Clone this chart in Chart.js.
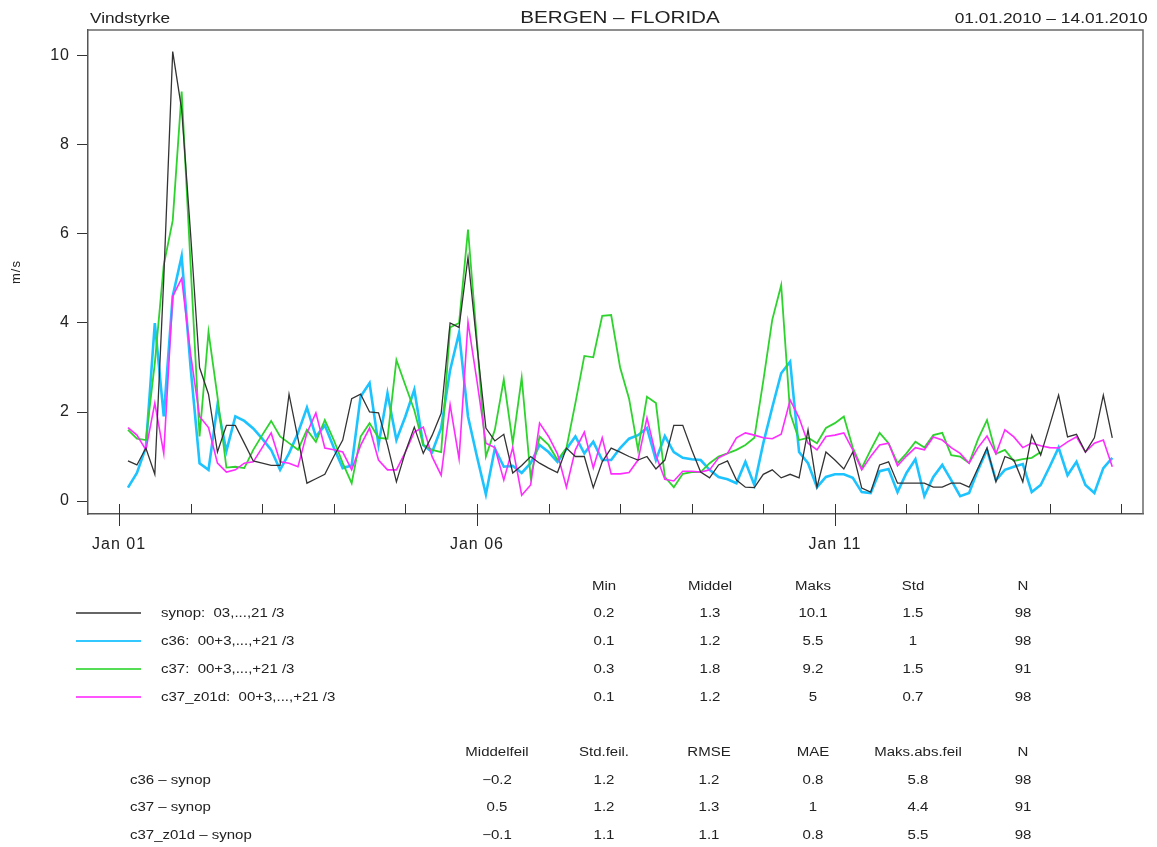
<!DOCTYPE html>
<html>
<head>
<meta charset="utf-8">
<script src="https://cdn.jsdelivr.net/npm/chart.js@4.4.1/dist/chart.umd.min.js"></script>
<style>
  html, body { margin: 0; padding: 0; background: #fff; }
  #wrap { position: relative; width: 1157px; height: 847px; font-family: "Liberation Sans", Arial, sans-serif; color: #222; }
  #c { position: absolute; left: 0; top: 0; }
  .t { position: absolute; white-space: pre; line-height: 1; }
  .hdr { font-size: 14px; top: 11px; }
  .left { transform: scaleX(1.23); transform-origin: left center; }
  .right { transform: scaleX(1.24); transform-origin: right center; }
  .title { font-size: 16px; top: 10px; left: 620px; transform: translateX(-50%) scaleX(1.29); transform-origin: center center; }
  .cell { font-size: 12.5px; transform: translateX(-50%) scaleX(1.2); transform-origin: center center; }
  .lab { font-size: 12.5px; transform: scaleX(1.2); transform-origin: left center; }
  .lg { position: absolute; left: 76px; width: 65px; height: 0; border-top: 2px solid; }
</style>
</head>
<body>
<div id="wrap">
  <canvas id="c" width="1157" height="847"></canvas>
  <div class="t hdr left" style="left:90px;">Vindstyrke</div>
  <div class="t title">BERGEN – FLORIDA</div>
  <div class="t hdr right" style="right:9px;">01.01.2010 – 14.01.2010</div>
  <div id="tables"></div>
</div>
<script>
// ---- data: 3-hourly wind speed (m/s), Jan 01 03:00 .. Jan 14 21:00 ----
const firstHour = 3;
const stepHours = 3;
const synop = [0.9,0.81,1.19,0.6,5.0,10.1,8.8,6.0,3.0,2.4, 1.1,1.7,1.7,1.3,0.9,0.85,0.8,0.8,2.4,1.4, 0.4,0.5,0.6,1.0,1.37,2.3,2.4,2.0,1.98,1.26, 0.43,1.1,1.66,1.07,1.48,1.97,4.0,3.9,5.48,3.5, 1.64,1.35,1.5,0.63,0.8,1.0,0.85,0.74,0.64,1.19, 1.0,1.0,0.3,0.88,1.19,1.1,1.0,0.92,1.0,0.72, 0.92,1.7,1.7,1.15,0.65,0.52,0.81,0.9,0.47,0.31, 0.3,0.6,0.7,0.52,0.6,0.52,1.6,0.31,1.1,0.92, 0.72,1.1,0.29,0.2,0.81,0.88,0.4,0.4,0.4,0.4, 0.31,0.31,0.4,0.4,0.31,0.74,1.19,0.43,1.0,0.92, 0.43,1.48,1.03,1.7,2.38,1.44,1.5,1.1,1.42,2.38, 1.42];
const c36 = [0.3,0.63,1.2,4.0,1.9,4.6,5.5,3.0,0.85,0.7, 2.15,1.12,1.9,1.8,1.63,1.4,1.15,0.7,1.07,1.53, 2.1,1.45,1.7,1.2,0.74,0.8,2.35,2.65,1.26,2.42, 1.37,1.9,2.5,1.26,1.1,1.64,2.94,3.78,1.9,1.0, 0.15,1.18,0.77,0.79,0.63,0.85,1.26,1.1,0.88,1.17, 1.45,1.07,1.33,0.92,0.92,1.19,1.4,1.48,1.64,0.92, 1.46,1.1,0.97,0.94,0.92,0.7,0.54,0.49,0.4,0.88, 0.36,1.3,2.1,2.87,3.13,1.1,0.85,0.31,0.54,0.6, 0.6,0.52,0.2,0.18,0.67,0.72,0.2,0.63,0.94,0.11, 0.54,0.81,0.47,0.11,0.18,0.7,1.15,0.47,0.7,0.77, 0.83,0.2,0.36,0.77,1.2,0.58,0.88,0.36,0.18,0.74, 0.97];
const c37 = [1.6,1.4,1.37,3.1,5.3,6.3,9.2,5.3,1.45,3.8, 2.35,0.75,0.77,0.74,1.15,1.48,1.8,1.45,1.3,1.15, 1.6,1.33,1.82,1.37,0.85,0.4,1.45,1.75,1.42,1.4, 3.17,2.6,2.04,1.26,1.15,1.1,3.9,4.0,6.1,3.6, 1.0,1.6,2.73,1.3,2.77,0.54,1.45,1.26,0.92,1.19, 2.2,3.26,3.23,4.16,4.18,3.0,2.3,1.15,2.34,2.2, 0.54,0.31,0.61,0.65,0.65,0.85,1.0,1.07,1.15,1.26, 1.42,2.7,4.07,4.85,1.97,1.37,1.42,1.3,1.64,1.75, 1.9,1.2,0.74,1.15,1.53,1.3,0.85,1.07,1.33,1.2, 1.48,1.53,1.03,1.0,0.85,1.39,1.82,1.06,1.15,0.9, 0.94,0.97,1.1,null,null,null,null,null,null,null, null];
const c37z01d = [1.65,1.48,1.15,2.2,1.07,4.6,5.0,3.3,1.9,1.65, 0.85,0.65,0.7,0.85,0.88,1.2,1.53,0.88,0.85,0.77, 1.53,1.98,1.19,1.15,1.1,0.7,1.25,1.64,0.92,0.7, 0.7,1.1,1.55,1.66,0.99,0.58,2.16,0.95,4.02,2.7, 1.3,1.2,0.47,1.2,0.13,0.36,1.75,1.45,1.06,0.31, 1.15,1.55,0.74,1.42,0.61,0.61,0.64,0.92,1.87,1.03, 0.49,0.45,0.67,0.67,0.65,0.7,0.97,1.07,1.42,1.53, 1.48,1.42,1.4,1.5,2.27,1.87,1.3,1.15,1.45,1.48, 1.53,1.15,0.7,1.0,1.26,1.3,0.79,1.01,1.2,1.15, 1.44,1.37,1.2,1.07,0.85,1.2,1.46,1.06,1.6,1.44, 1.2,1.3,1.24,1.2,1.19,1.33,1.44,1.1,1.3,1.37, 0.77];

// ---- ticks ----
const dayTickHours = [0,24,48,72,96,120,144,168,192,216,240,264,288,312,336];
const dayTickLabels = {0:'Jan 01', 120:'Jan 06', 240:'Jan 11'};
const yTicks = [0,2,4,6,8,10];

// ---- legend / statistics tables ----
const seriesNames = ['synop:  03,...,21 /3','c36:  00+3,...,+21 /3','c37:  00+3,...,+21 /3','c37_z01d:  00+3,...,+21 /3'];
const seriesColors = ['#333333','#1cc3ff','#2ed32e','#ff2cff'];
const legendColors = ['#666666','#33c8ff','#55dd55','#ff55ff'];
const statHeads = ['Min','Middel','Maks','Std','N'];
const statRows = [['0.2','1.3','10.1','1.5','98'],['0.1','1.2','5.5','1','98'],['0.3','1.8','9.2','1.5','91'],['0.1','1.2','5','0.7','98']];
const errNames = ['c36 – synop','c37 – synop','c37_z01d – synop'];
const errHeads = ['Middelfeil','Std.feil.','RMSE','MAE','Maks.abs.feil','N'];
const errRows = [['−0.2','1.2','1.2','0.8','5.8','98'],['0.5','1.2','1.3','1','4.4','91'],['−0.1','1.1','1.1','0.8','5.5','98']];

// ---- build html tables ----
(function(){
  const box = document.getElementById('tables');
  let h = '';
  const statX = [604,710,813,913,1023];
  const rowY = [607,635,663,691];
  statHeads.forEach((s,i)=>{ h += `<div class="t cell" style="left:${statX[i]}px;top:580px">${s}</div>`; });
  seriesNames.forEach((n,r)=>{
    h += `<div class="lg" style="top:${rowY[r]+5}px;border-color:${legendColors[r]}"></div>`;
    h += `<div class="t lab" style="left:161px;top:${rowY[r]}px">${n}</div>`;
    statRows[r].forEach((v,i)=>{ h += `<div class="t cell" style="left:${statX[i]}px;top:${rowY[r]}px">${v}</div>`; });
  });
  const errX = [497,604,709,813,918,1023];
  const errY = [774,801,829];
  errHeads.forEach((s,i)=>{ h += `<div class="t cell" style="left:${errX[i]}px;top:746px">${s}</div>`; });
  errNames.forEach((n,r)=>{
    h += `<div class="t lab" style="left:130px;top:${errY[r]}px">${n}</div>`;
    errRows[r].forEach((v,i)=>{ h += `<div class="t cell" style="left:${errX[i]}px;top:${errY[r]}px">${v}</div>`; });
  });
  box.innerHTML = h;
})();

// ---- chart ----
const hours = synop.map((_, i) => firstHour + i * stepHours);
const toXY = arr => arr.map((v, i) => ({x: hours[i], y: v}));

const framePlugin = {
  id: 'frame',
  beforeDraw(chart) {
    chart.ctx.letterSpacing = '1px';
  },
  afterDraw(chart) {
    const {ctx, chartArea: {left, right, top, bottom}, scales: {x}} = chart;
    ctx.save();
    ctx.strokeStyle = '#6a6a6a';
    ctx.lineWidth = 1.5;
    ctx.beginPath();
    ctx.moveTo(left, top); ctx.lineTo(right, top); ctx.lineTo(right, bottom);
    ctx.stroke();
    ctx.strokeStyle = '#333';
    ctx.lineWidth = 1;
    ctx.beginPath();
    dayTickHours.forEach(v => {
      const px = Math.round(x.getPixelForValue(v)) + 0.5;
      ctx.moveTo(px, bottom - 10);
      ctx.lineTo(px, dayTickLabels[v] ? bottom + 12 : bottom);
    });
    ctx.stroke();
    ctx.restore();
  }
};

new Chart(document.getElementById('c'), {
  type: 'line',
  data: {
    datasets: [
      {label: 'synop', data: toXY(synop), borderColor: seriesColors[0], borderWidth: 1.3, order: 0},
      {label: 'c37_z01d', data: toXY(c37z01d), borderColor: seriesColors[3], borderWidth: 1.6, order: 1},
      {label: 'c37', data: toXY(c37), borderColor: seriesColors[2], borderWidth: 1.8, order: 2},
      {label: 'c36', data: toXY(c36), borderColor: seriesColors[1], borderWidth: 2.6, order: 3}
    ]
  },
  options: {
    responsive: false,
    animation: false,
    devicePixelRatio: 1,
    layout: {padding: {left: 0, top: 30, right: 14, bottom: 273}},
    elements: {point: {radius: 0}, line: {tension: 0, borderJoinStyle: 'miter'}},
    plugins: {legend: {display: false}, tooltip: {enabled: false}},
    scales: {
      x: {
        type: 'linear',
        min: -10.4,
        max: 343.3,
        afterBuildTicks: s => { s.ticks = dayTickHours.map(v => ({value: v})); },
        afterFit: s => { s.height = 60; },
        ticks: {
          autoSkip: false, maxRotation: 0, minRotation: 0, padding: 21,
          color: '#222', font: {family: 'Liberation Sans', size: 16},
          callback: v => dayTickLabels[v] || ''
        },
        grid: {display: true, drawOnChartArea: false, drawTicks: false},
        border: {display: true, color: '#555', width: 1.5}
      },
      y: {
        min: -0.292,
        max: 10.584,
        afterBuildTicks: s => { s.ticks = yTicks.map(v => ({value: v})); },
        afterFit: s => { s.width = 88; },
        ticks: {color: '#222', padding: 7, font: {family: 'Liberation Sans', size: 16}},
        grid: {display: true, drawOnChartArea: false, drawTicks: true, tickLength: 11, tickColor: '#333'},
        border: {display: true, color: '#555', width: 1.5},
        title: {display: true, text: 'm/s', color: '#222', font: {family: 'Liberation Sans', size: 13}, padding: {top: 9, bottom: 0}}
      }
    }
  },
  plugins: [framePlugin]
});
</script>
</body>
</html>
